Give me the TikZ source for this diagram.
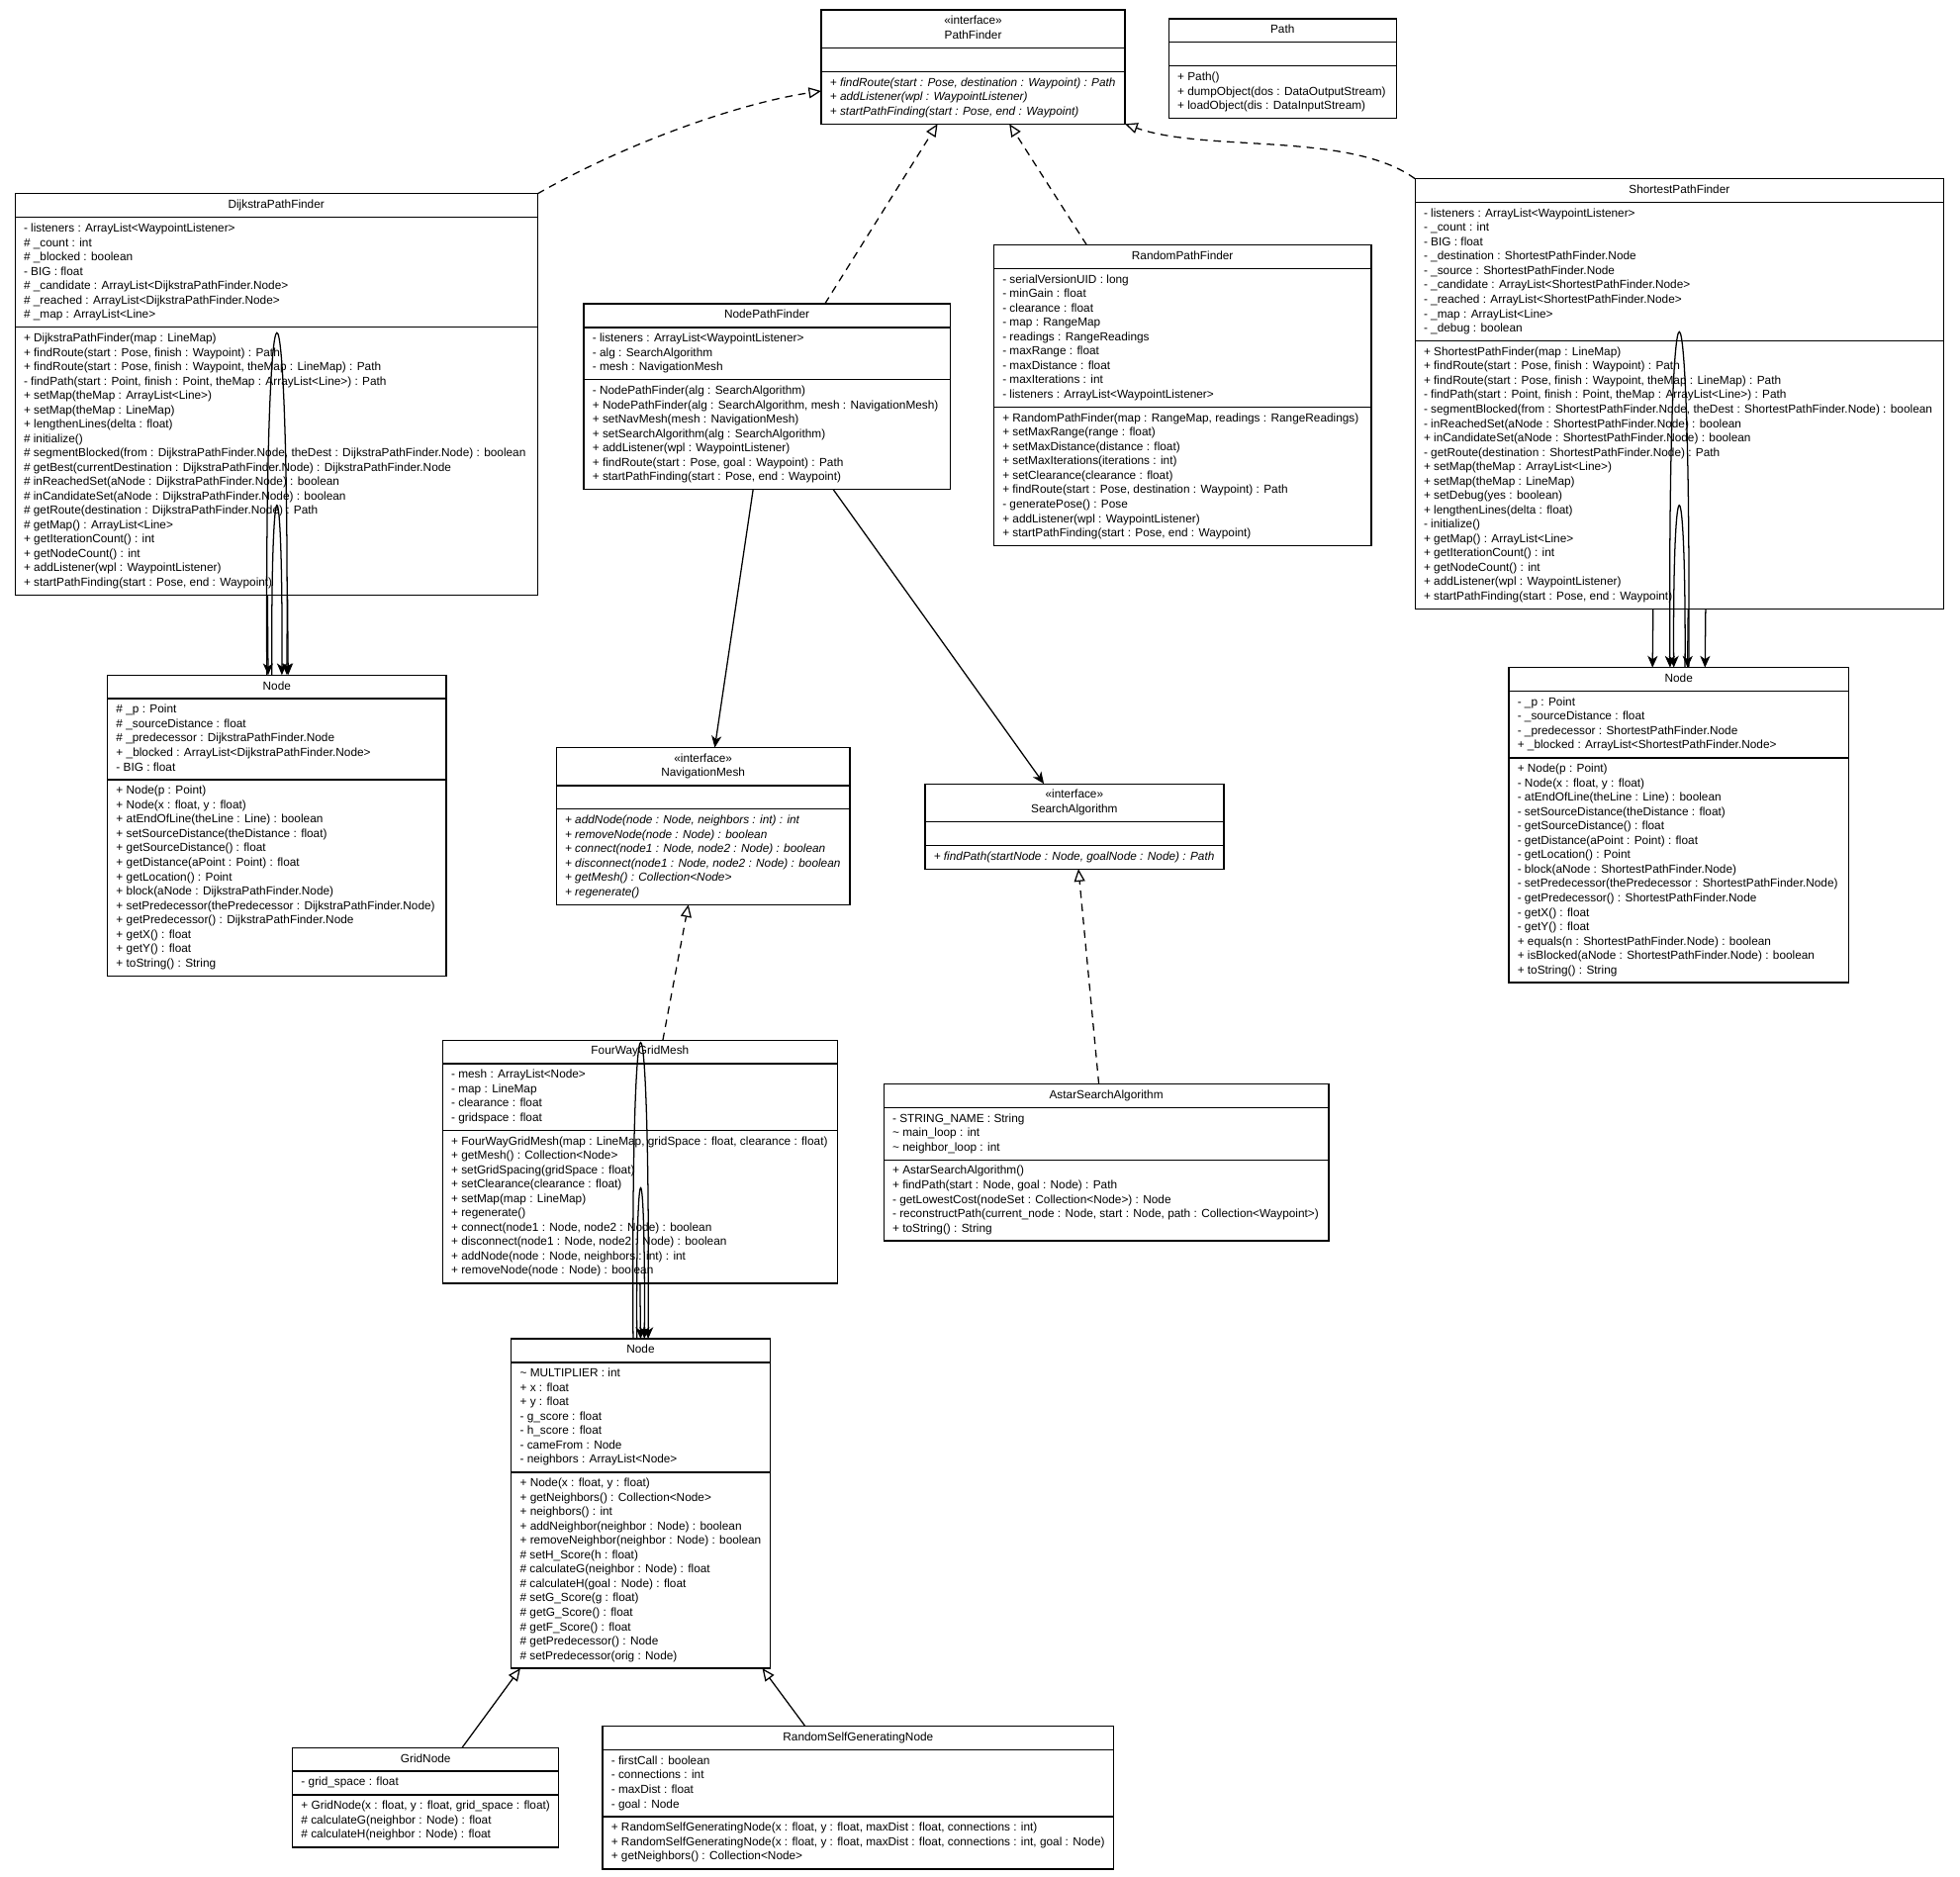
\documentclass[tikz,border=0pt]{standalone}
\usepackage{fontspec}
\setmainfont{Liberation Sans}
\usetikzlibrary{shapes.multipart,arrows.meta,calc}

\tikzset{every picture/.style={line width=0.75pt}}
\newcommand{\umlfont}{\fontsize{7.02pt}{8.62pt}\selectfont}
\newcommand{\stereo}[1]{\upshape\begin{tabular}{@{}c@{}}«interface»\\#1\end{tabular}}
\newcommand{\cls}[3]{\strut#1\strut\nodepart{two}\strut#2\strut\nodepart{three}\strut#3\strut}
\tikzset{
  umlclass/.style={draw, rectangle split, rectangle split parts=3,
    rectangle split part align={center,left,left}, align=left,
    anchor=north west, inner xsep=5.25pt, inner ysep=2.4pt, outer sep=0pt,
    minimum width=#1*0.75pt, font=\umlfont},
  interface/.style={font=\umlfont\itshape},
  realize/.style={dash pattern=on 4.5pt off 3.5pt, -{Triangle[open,length=7.5pt,width=6.5pt]}},
  extend/.style={-{Triangle[open,length=7.5pt,width=6.5pt]}},
  assoc/.style={-{Stealth[length=7pt,width=6pt,inset=2pt]}}
}

\begin{document}
\begin{tikzpicture}[x=0.75pt,y=0.75pt,yscale=-1,xscale=1]
\path[use as bounding box] (0,0) rectangle (1568,1501);

%Class: PathFinder
\node[umlclass=243, interface] (pf) at (657,8) {\cls{\stereo{PathFinder}}{}{%
+ findRoute(start : Pose, destination : Waypoint) : Path\\
+ addListener(wpl : WaypointListener)\\
+ startPathFinding(start : Pose, end : Waypoint)}};
%Class: Path
\node[umlclass=182] (path) at (935,15) {\cls{Path}{}{%
+ Path()\\
+ dumpObject(dos : DataOutputStream)\\
+ loadObject(dis : DataInputStream)}};
%Class: DijkstraPathFinder
\node[umlclass=418] (dpf) at (12,155) {\cls{DijkstraPathFinder}{%
- listeners : ArrayList<WaypointListener>\\
\# \_count : int\\
\# \_blocked : boolean\\
- BIG : float\\
\# \_candidate : ArrayList<DijkstraPathFinder.Node>\\
\# \_reached : ArrayList<DijkstraPathFinder.Node>\\
\# \_map : ArrayList<Line>}{%
+ DijkstraPathFinder(map : LineMap)\\
+ findRoute(start : Pose, finish : Waypoint) : Path\\
+ findRoute(start : Pose, finish : Waypoint, theMap : LineMap) : Path\\
- findPath(start : Point, finish : Point, theMap : ArrayList<Line>) : Path\\
+ setMap(theMap : ArrayList<Line>)\\
+ setMap(theMap : LineMap)\\
+ lengthenLines(delta : float)\\
\# initialize()\\
\# segmentBlocked(from : DijkstraPathFinder.Node, theDest : DijkstraPathFinder.Node) : boolean\\
\# getBest(currentDestination : DijkstraPathFinder.Node) : DijkstraPathFinder.Node\\
\# inReachedSet(aNode : DijkstraPathFinder.Node) : boolean\\
\# inCandidateSet(aNode : DijkstraPathFinder.Node) : boolean\\
\# getRoute(destination : DijkstraPathFinder.Node) : Path\\
\# getMap() : ArrayList<Line>\\
+ getIterationCount() : int\\
+ getNodeCount() : int\\
+ addListener(wpl : WaypointListener)\\
+ startPathFinding(start : Pose, end : Waypoint)}};
%Class: NodePathFinder
\node[umlclass=293] (npf) at (467,243) {\cls{NodePathFinder}{%
- listeners : ArrayList<WaypointListener>\\
- alg : SearchAlgorithm\\
- mesh : NavigationMesh}{%
- NodePathFinder(alg : SearchAlgorithm)\\
+ NodePathFinder(alg : SearchAlgorithm, mesh : NavigationMesh)\\
+ setNavMesh(mesh : NavigationMesh)\\
+ setSearchAlgorithm(alg : SearchAlgorithm)\\
+ addListener(wpl : WaypointListener)\\
+ findRoute(start : Pose, goal : Waypoint) : Path\\
+ startPathFinding(start : Pose, end : Waypoint)}};
%Class: RandomPathFinder
\node[umlclass=302] (rpf) at (795,196) {\cls{RandomPathFinder}{%
- serialVersionUID : long\\
- minGain : float\\
- clearance : float\\
- map : RangeMap\\
- readings : RangeReadings\\
- maxRange : float\\
- maxDistance : float\\
- maxIterations : int\\
- listeners : ArrayList<WaypointListener>}{%
+ RandomPathFinder(map : RangeMap, readings : RangeReadings)\\
+ setMaxRange(range : float)\\
+ setMaxDistance(distance : float)\\
+ setMaxIterations(iterations : int)\\
+ setClearance(clearance : float)\\
+ findRoute(start : Pose, destination : Waypoint) : Path\\
- generatePose() : Pose\\
+ addListener(wpl : WaypointListener)\\
+ startPathFinding(start : Pose, end : Waypoint)}};
%Class: ShortestPathFinder
\node[umlclass=423] (spf) at (1132,143) {\cls{ShortestPathFinder}{%
- listeners : ArrayList<WaypointListener>\\
- \_count : int\\
- BIG : float\\
- \_destination : ShortestPathFinder.Node\\
- \_source : ShortestPathFinder.Node\\
- \_candidate : ArrayList<ShortestPathFinder.Node>\\
- \_reached : ArrayList<ShortestPathFinder.Node>\\
- \_map : ArrayList<Line>\\
- \_debug : boolean}{%
+ ShortestPathFinder(map : LineMap)\\
+ findRoute(start : Pose, finish : Waypoint) : Path\\
+ findRoute(start : Pose, finish : Waypoint, theMap : LineMap) : Path\\
- findPath(start : Point, finish : Point, theMap : ArrayList<Line>) : Path\\
- segmentBlocked(from : ShortestPathFinder.Node, theDest : ShortestPathFinder.Node) : boolean\\
- inReachedSet(aNode : ShortestPathFinder.Node) : boolean\\
+ inCandidateSet(aNode : ShortestPathFinder.Node) : boolean\\
- getRoute(destination : ShortestPathFinder.Node) : Path\\
+ setMap(theMap : ArrayList<Line>)\\
+ setMap(theMap : LineMap)\\
+ setDebug(yes : boolean)\\
+ lengthenLines(delta : float)\\
- initialize()\\
+ getMap() : ArrayList<Line>\\
+ getIterationCount() : int\\
+ getNodeCount() : int\\
+ addListener(wpl : WaypointListener)\\
+ startPathFinding(start : Pose, end : Waypoint)}};
%Class: Node (DijkstraPathFinder)
\node[umlclass=271] (dnode) at (86,540) {\cls{Node}{%
\# \_p : Point\\
\# \_sourceDistance : float\\
\# \_predecessor : DijkstraPathFinder.Node\\
+ \_blocked : ArrayList<DijkstraPathFinder.Node>\\
- BIG : float}{%
+ Node(p : Point)\\
+ Node(x : float, y : float)\\
+ atEndOfLine(theLine : Line) : boolean\\
+ setSourceDistance(theDistance : float)\\
+ getSourceDistance() : float\\
+ getDistance(aPoint : Point) : float\\
+ getLocation() : Point\\
+ block(aNode : DijkstraPathFinder.Node)\\
+ setPredecessor(thePredecessor : DijkstraPathFinder.Node)\\
+ getPredecessor() : DijkstraPathFinder.Node\\
+ getX() : float\\
+ getY() : float\\
+ toString() : String}};
%Class: NavigationMesh
\node[umlclass=235, interface] (navmesh) at (445,598) {\cls{\stereo{NavigationMesh}}{}{%
+ addNode(node : Node, neighbors : int) : int\\
+ removeNode(node : Node) : boolean\\
+ connect(node1 : Node, node2 : Node) : boolean\\
+ disconnect(node1 : Node, node2 : Node) : boolean\\
+ getMesh() : Collection<Node>\\
+ regenerate()}};
%Class: SearchAlgorithm
\node[umlclass=239, interface] (searchalg) at (740,627) {\cls{\stereo{SearchAlgorithm}}{}{%
+ findPath(startNode : Node, goalNode : Node) : Path}};
%Class: Node (ShortestPathFinder)
\node[umlclass=272] (snode) at (1207,534) {\cls{Node}{%
- \_p : Point\\
- \_sourceDistance : float\\
- \_predecessor : ShortestPathFinder.Node\\
+ \_blocked : ArrayList<ShortestPathFinder.Node>}{%
+ Node(p : Point)\\
- Node(x : float, y : float)\\
- atEndOfLine(theLine : Line) : boolean\\
- setSourceDistance(theDistance : float)\\
- getSourceDistance() : float\\
- getDistance(aPoint : Point) : float\\
- getLocation() : Point\\
- block(aNode : ShortestPathFinder.Node)\\
- setPredecessor(thePredecessor : ShortestPathFinder.Node)\\
- getPredecessor() : ShortestPathFinder.Node\\
- getX() : float\\
- getY() : float\\
+ equals(n : ShortestPathFinder.Node) : boolean\\
+ isBlocked(aNode : ShortestPathFinder.Node) : boolean\\
+ toString() : String}};
%Class: FourWayGridMesh
\node[umlclass=316] (fwgm) at (354,832) {\cls{FourWayGridMesh}{%
- mesh : ArrayList<Node>\\
- map : LineMap\\
- clearance : float\\
- gridspace : float}{%
+ FourWayGridMesh(map : LineMap, gridSpace : float, clearance : float)\\
+ getMesh() : Collection<Node>\\
+ setGridSpacing(gridSpace : float)\\
+ setClearance(clearance : float)\\
+ setMap(map : LineMap)\\
+ regenerate()\\
+ connect(node1 : Node, node2 : Node) : boolean\\
+ disconnect(node1 : Node, node2 : Node) : boolean\\
+ addNode(node : Node, neighbors : int) : int\\
+ removeNode(node : Node) : boolean}};
%Class: AstarSearchAlgorithm
\node[umlclass=356] (astar) at (707,867) {\cls{AstarSearchAlgorithm}{%
- STRING\_NAME : String\\
\textasciitilde{} main\_loop : int\\
\textasciitilde{} neighbor\_loop : int}{%
+ AstarSearchAlgorithm()\\
+ findPath(start : Node, goal : Node) : Path\\
- getLowestCost(nodeSet : Collection<Node>) : Node\\
- reconstructPath(current\_node : Node, start : Node, path : Collection<Waypoint>)\\
+ toString() : String}};
%Class: Node (grid)
\node[umlclass=207] (gnode) at (409,1071) {\cls{Node}{%
\textasciitilde{} MULTIPLIER : int\\
+ x : float\\
+ y : float\\
- g\_score : float\\
- h\_score : float\\
- cameFrom : Node\\
- neighbors : ArrayList<Node>}{%
+ Node(x : float, y : float)\\
+ getNeighbors() : Collection<Node>\\
+ neighbors() : int\\
+ addNeighbor(neighbor : Node) : boolean\\
+ removeNeighbor(neighbor : Node) : boolean\\
\# setH\_Score(h : float)\\
\# calculateG(neighbor : Node) : float\\
\# calculateH(goal : Node) : float\\
\# setG\_Score(g : float)\\
\# getG\_Score() : float\\
\# getF\_Score() : float\\
\# getPredecessor() : Node\\
\# setPredecessor(orig : Node)}};
%Class: GridNode
\node[umlclass=212] (gridnode) at (234,1398) {\cls{GridNode}{%
- grid\_space : float}{%
+ GridNode(x : float, y : float, grid\_space : float)\\
\# calculateG(neighbor : Node) : float\\
\# calculateH(neighbor : Node) : float}};
%Class: RandomSelfGeneratingNode
\node[umlclass=409] (rsgn) at (482,1381) {\cls{RandomSelfGeneratingNode}{%
- firstCall : boolean\\
- connections : int\\
- maxDist : float\\
- goal : Node}{%
+ RandomSelfGeneratingNode(x : float, y : float, maxDist : float, connections : int)\\
+ RandomSelfGeneratingNode(x : float, y : float, maxDist : float, connections : int, goal : Node)\\
+ getNeighbors() : Collection<Node>}};

%Realizations
\draw[realize] (dpf.north east) .. controls +(70,-40) and +(-67,10) .. (pf.189);
\draw[realize] (npf) -- (pf);
\draw[realize] (rpf) -- (pf);
\draw[realize] (spf.north west) .. controls +(-52,-38) and +(65,23) .. (pf.south east);
\draw[realize] (fwgm) -- (navmesh);
\draw[realize] (astar) -- (searchalg);
%Generalizations
\draw[extend] (gridnode) -- (gnode);
\draw[extend] (rsgn) -- (gnode);
%Associations
\draw[assoc] (npf) -- (navmesh);
\draw[assoc] (npf) -- (searchalg);
\draw[assoc] ($(dpf.south)+(-7,0)$) -- ($(dnode.north)+(-7,0)$);
\draw[assoc] ($(dpf.south)+(9,0)$) -- ($(dnode.north)+(9,0)$);
\draw[assoc] ($(dnode.north)+(-8,0)$) .. controls +(-2,-364) and +(2,-364) .. ($(dnode.north)+(8,0)$);
\draw[assoc] ($(dnode.north)+(-4,0)$) .. controls +(-1,-180) and +(1,-180) .. ($(dnode.north)+(4,0)$);
\draw[assoc] ($(spf.south)+(-21,0)$) -- ($(snode.north)+(-21,0)$);
\draw[assoc] ($(spf.south)+(7,0)$) -- ($(snode.north)+(7,0)$);
\draw[assoc] ($(spf.south)+(21,0)$) -- ($(snode.north)+(21,0)$);
\draw[assoc] ($(snode.north)+(8,0)$) .. controls +(2,-357) and +(-2,-357) .. ($(snode.north)+(-7,0)$);
\draw[assoc] ($(snode.north)+(5,0)$) .. controls +(1,-172) and +(-1,-172) .. ($(snode.north)+(-4,0)$);
\draw[assoc] (fwgm.south) -- (gnode.north);
\draw[assoc] ($(gnode.north)+(-6,0)$) .. controls +(-2,-315) and +(2,-315) .. ($(gnode.north)+(6,0)$);
\draw[assoc] ($(gnode.north)+(-3,0)$) .. controls +(-1,-160) and +(1,-160) .. ($(gnode.north)+(3,0)$);

\end{tikzpicture}
\end{document}
